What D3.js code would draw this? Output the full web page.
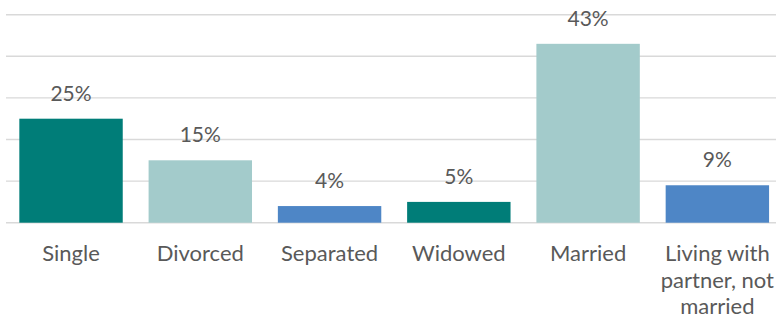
<!DOCTYPE html>
<html>
<head>
<meta charset="utf-8">
<script src="https://cdn.jsdelivr.net/npm/d3@7"></script>
<style>
  html, body { margin: 0; padding: 0; background: #fff; }
  svg { display: block; }
  text { font-family: Lato, "Open Sans", sans-serif; fill: #595959; }
</style>
</head>
<body>
<svg id="chart" width="776" height="323"></svg>
<script>
// Marital status shares (percent)
const categories = ["Single", "Divorced", "Separated", "Widowed", "Married", "Living with partner, not married"];
const values = [25, 15, 4, 5, 43, 9];
const colors = ["#007D78", "#A3CBCB", "#4E86C6", "#007D78", "#A3CBCB", "#4E86C6"];
const yTicks = [0, 10, 20, 30, 40, 50];

const W = 776, H = 323;
const svg = d3.select("#chart");

const x = d3.scaleBand()
  .domain(categories)
  .range([6.4, 782])
  .paddingInner(0.2)
  .paddingOuter(0.1);

const y = d3.scaleLinear()
  .domain([0, 50])
  .range([222.7, 14.7]);

// horizontal gridlines
svg.append("g")
  .selectAll("line")
  .data(yTicks)
  .join("line")
  .attr("x1", 6)
  .attr("x2", W)
  .attr("y1", d => y(d))
  .attr("y2", d => y(d))
  .attr("stroke", "#D9D9D9")
  .attr("stroke-width", 1.4);

// bars
svg.append("g")
  .selectAll("rect")
  .data(categories)
  .join("rect")
  .attr("x", d => x(d))
  .attr("width", x.bandwidth())
  .attr("y", (d, i) => y(values[i]))
  .attr("height", (d, i) => y(0) - y(values[i]))
  .attr("fill", (d, i) => colors[i]);

// value labels
svg.append("g")
  .selectAll("text")
  .data(categories)
  .join("text")
  .attr("x", d => x(d) + x.bandwidth() / 2)
  .attr("y", (d, i) => y(values[i]) - 18)
  .attr("text-anchor", "middle")
  .attr("font-size", 21)
  .text((d, i) => values[i] + "%");

// category axis labels, wrapped to the band width
const xAxis = svg.append("g")
  .attr("transform", `translate(0,${y(0)})`)
  .call(d3.axisBottom(x).tickSize(0).tickPadding(0));
xAxis.select(".domain").remove();
xAxis.selectAll("text")
  .attr("font-size", 22)
  .attr("y", 38.5)
  .attr("dy", 0)
  .style("fill", "#595959")
  .style("font-family", "Lato, 'Open Sans', sans-serif")
  .each(function (d) {
    const t = d3.select(this);
    const words = d.split(" ");
    t.text(null);
    const maxW = x.step() * 0.98;
    let line = [];
    let ts = t.append("tspan").attr("x", 0).attr("dy", 0);
    for (const w of words) {
      line.push(w);
      ts.text(line.join(" "));
      if (ts.node().getComputedTextLength() > maxW && line.length > 1) {
        line.pop();
        ts.text(line.join(" "));
        line = [w];
        ts = t.append("tspan").attr("x", 0).attr("dy", 26.5).text(w);
      }
    }
  });
</script>
</body>
</html>
